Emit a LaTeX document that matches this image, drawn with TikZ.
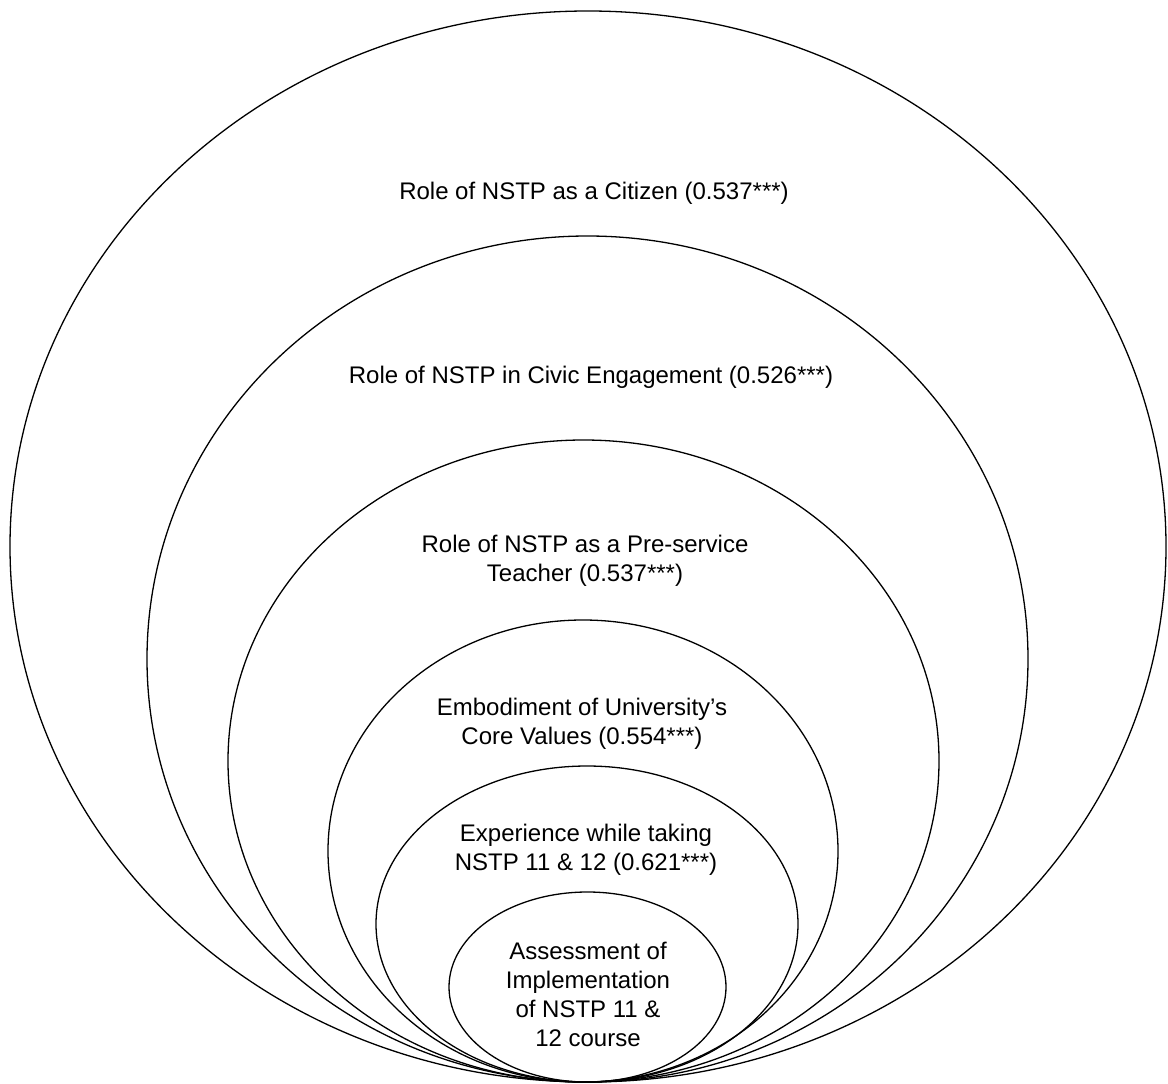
\documentclass[tikz,border=0pt]{standalone}
\usepackage{fontspec}
\setmainfont{Liberation Sans}
\usetikzlibrary{shapes.geometric}
\tikzset{
  ring/.style={draw=black, line width=1.3pt, ellipse, inner sep=0pt, fill=none},
  lbl/.style={align=center, inner sep=0pt, font=\fontsize{24}{28.8}\selectfont, text=black}
}
\begin{document}
\begin{tikzpicture}[x=1pt,y=-1pt]
\useasboundingbox[fill=white] (0,0) rectangle (1168,1084);
\node[ring, minimum width=1156pt, minimum height=1071pt] (e1) at (588,546.5) {};
\node[ring, minimum width=881pt, minimum height=846pt] (e2) at (587.5,659) {};
\node[ring, minimum width=711pt, minimum height=642pt] (e3) at (583.5,761) {};
\node[ring, minimum width=510pt, minimum height=462pt] (e4) at (583,851) {};
\node[ring, minimum width=422pt, minimum height=316pt] (e5) at (587,924) {};
\node[ring, minimum width=277pt, minimum height=190pt] (e6) at (587.5,987) {};
\node[lbl] (t1) at (594,193) {Role of NSTP as a Citizen (0.537***)};
\node[lbl] (t2) at (591,377) {Role of NSTP in Civic Engagement (0.526***)};
\node[lbl] (t3) at (585,561) {Role of NSTP as a Pre-service\\Teacher (0.537***)};
\node[lbl] (t4) at (582,724) {Embodiment of University’s\\Core Values (0.554***)};
\node[lbl] (t5) at (586,850) {Experience while taking\\NSTP 11 \& 12 (0.621***)};
\node[lbl] (t6) at (588,994.5) {Assessment of\\Implementation\\of NSTP 11 \&\\12 course};
\end{tikzpicture}
\end{document}
